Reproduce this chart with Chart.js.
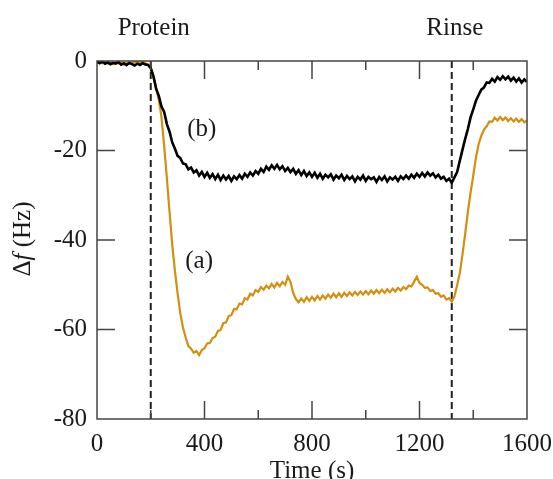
<!DOCTYPE html>
<html>
<head>
<meta charset="utf-8">
<script src="https://cdn.jsdelivr.net/npm/chart.js@4.4.1/dist/chart.umd.min.js"></script>
<style>
  html,body{margin:0;padding:0;background:#fff;}
  #c{display:block;}
</style>
</head>
<body>
<canvas id="c" width="553" height="479"></canvas>
<script>
// QCM frequency shift, sampled every 10 s
const TIME = [
  0,10,20,30,40,50,60,70,80,90,
  100,110,120,130,140,150,160,170,180,190,
  200,210,220,230,240,250,260,270,280,290,
  300,310,320,330,340,350,360,370,380,390,
  400,410,420,430,440,450,460,470,480,490,
  500,510,520,530,540,550,560,570,580,590,
  600,610,620,630,640,650,660,670,680,690,
  700,710,720,730,740,750,760,770,780,790,
  800,810,820,830,840,850,860,870,880,890,
  900,910,920,930,940,950,960,970,980,990,
  1000,1010,1020,1030,1040,1050,1060,1070,1080,1090,
  1100,1110,1120,1130,1140,1150,1160,1170,1180,1190,
  1200,1210,1220,1230,1240,1250,1260,1270,1280,1290,
  1300,1310,1320,1330,1340,1350,1360,1370,1380,1390,
  1400,1410,1420,1430,1440,1450,1460,1470,1480,1490,
  1500,1510,1520,1530,1540,1550,1560,1570,1580,1590,
  1600
];

// curve (b), black
const DF_B = [
  -0.2,-0.5,-0.1,-0.6,-0.3,-0.7,-0.4,-0.6,-0.2,-0.8,
  -0.5,-0.9,-0.4,-0.7,-1.0,-0.6,-0.9,-0.5,-0.8,-0.9,
  -1.6,-3.4,-6.2,-7.8,-10.2,-11.4,-14.1,-15.8,-18.2,-19.6,
  -21.2,-21.7,-22.9,-23.1,-24.2,-23.8,-24.9,-24.4,-25.6,-24.8,
  -25.9,-25.0,-26.1,-25.3,-26.4,-25.4,-26.6,-25.6,-26.5,-25.7,
  -26.8,-25.8,-26.4,-25.5,-26.3,-25.2,-25.9,-24.9,-25.6,-24.6,
  -25.2,-24.1,-24.8,-23.6,-24.3,-23.3,-24.1,-23.2,-24.2,-23.5,
  -24.6,-23.9,-24.8,-24.1,-25.2,-24.4,-25.5,-24.6,-25.7,-24.9,
  -25.9,-25.0,-26.1,-25.2,-26.3,-25.4,-26.0,-25.3,-26.5,-25.6,
  -26.2,-25.4,-26.6,-25.7,-26.4,-25.8,-26.9,-25.9,-26.5,-25.6,
  -26.8,-25.9,-26.4,-26.0,-27.0,-25.9,-26.6,-25.8,-26.9,-26.0,
  -26.5,-25.9,-26.8,-25.8,-26.4,-25.6,-26.3,-25.4,-26.1,-25.2,
  -25.9,-25.0,-25.8,-24.9,-25.6,-25.1,-26.0,-25.4,-26.3,-25.9,
  -26.8,-26.3,-27.2,-26.0,-24.8,-22.3,-19.8,-17.4,-15.2,-12.6,
  -10.8,-8.9,-7.6,-6.4,-5.9,-4.8,-4.9,-4.0,-4.6,-3.6,
  -4.2,-3.4,-4.1,-3.5,-4.4,-3.7,-4.6,-3.9,-4.8,-4.1,
  -4.7
];

// curve (a), orange
const DF_A = [
  -0.4,-0.2,-0.5,-0.3,-0.6,-0.4,-0.7,-0.3,-0.6,-0.5,
  -0.8,-0.5,-0.7,-0.4,-0.3,-0.1,-0.4,-0.2,-0.5,-0.8,
  -1.5,-3.6,-6.1,-8.7,-12.6,-19.0,-26.2,-33.8,-41.1,-46.9,
  -52.0,-56.4,-59.6,-61.8,-63.7,-64.3,-65.2,-64.8,-65.7,-64.6,
  -64.2,-63.1,-63.0,-61.9,-61.6,-60.3,-60.1,-58.6,-58.4,-57.0,
  -56.8,-55.4,-55.5,-54.2,-54.4,-53.0,-53.3,-52.0,-52.4,-51.2,
  -51.6,-50.5,-51.1,-50.2,-50.8,-49.8,-50.6,-49.6,-50.3,-49.4,
  -50.0,-48.2,-49.4,-51.8,-53.2,-53.9,-53.1,-53.8,-52.8,-53.6,
  -52.7,-53.5,-52.5,-53.3,-52.4,-53.1,-52.2,-52.9,-52.0,-52.8,
  -51.9,-52.7,-51.8,-52.5,-51.7,-52.4,-51.6,-52.3,-51.5,-52.2,
  -51.4,-52.1,-51.3,-52.0,-51.2,-51.9,-51.1,-51.8,-51.0,-51.7,
  -50.9,-51.5,-50.7,-51.3,-50.5,-51.0,-50.2,-50.4,-49.3,-48.2,
  -49.6,-50.0,-50.7,-50.6,-51.4,-51.2,-52.0,-51.9,-52.7,-52.4,
  -53.3,-53.0,-53.8,-52.6,-50.1,-47.4,-43.2,-38.6,-33.7,-29.4,
  -25.6,-21.6,-18.6,-16.7,-15.3,-14.6,-13.5,-13.6,-12.7,-13.3,
  -12.5,-13.2,-12.6,-13.4,-12.8,-13.5,-12.9,-13.6,-13.0,-13.7,
  -13.3
];

const EVENT_TIMES = [200, 1320];
const EVENT_NAMES = ['Protein', 'Rinse'];
const CURVE_NAMES = ['(a)', '(b)'];
const CURVE_LABEL_T = [380, 390];
const CURVE_LABEL_F = [-44.8, -15.4];
const X_MAJOR = [400, 800, 1200];
const X_MINOR = [200, 600, 1000, 1400];
const Y_TICKS = [-20, -40, -60];

const SERIF = "'Liberation Serif','DejaVu Serif',serif";
const toPts = (ys) => ys.map((v, i) => ({x: TIME[i], y: v}));

const decor = {
  id: 'decor',
  afterDraw(chart){
    const {ctx, chartArea: a, scales: {x, y}} = chart;
    ctx.save();
    // frame + inward ticks
    ctx.strokeStyle = '#444'; ctx.lineWidth = 1.5;
    ctx.strokeRect(a.left, a.top, a.right - a.left, a.bottom - a.top);
    ctx.beginPath();
    X_MAJOR.forEach(v => { const px = x.getPixelForValue(v);
      ctx.moveTo(px, a.bottom); ctx.lineTo(px, a.bottom - 18);
      ctx.moveTo(px, a.top); ctx.lineTo(px, a.top + 18); });
    X_MINOR.forEach(v => { const px = x.getPixelForValue(v);
      ctx.moveTo(px, a.bottom); ctx.lineTo(px, a.bottom - 9);
      ctx.moveTo(px, a.top); ctx.lineTo(px, a.top + 9); });
    Y_TICKS.forEach(v => { const py = y.getPixelForValue(v);
      ctx.moveTo(a.left, py); ctx.lineTo(a.left + 18, py);
      ctx.moveTo(a.right, py); ctx.lineTo(a.right - 18, py); });
    ctx.stroke();

    ctx.fillStyle = '#1a1a1a';
    ctx.font = '25px ' + SERIF;
    ctx.textAlign = 'center';
    ctx.textBaseline = 'alphabetic';
    EVENT_NAMES.forEach((s, i) => ctx.fillText(s, x.getPixelForValue(EVENT_TIMES[i]) + 3, 35));
    ctx.fillText('Time (s)', (a.left + a.right) / 2, 478);
    ctx.textBaseline = 'middle';
    CURVE_NAMES.forEach((s, i) => ctx.fillText(s, x.getPixelForValue(CURVE_LABEL_T[i]), y.getPixelForValue(CURVE_LABEL_F[i])));

    // y title: Δf (Hz), f italic
    ctx.translate(30, 239);
    ctx.rotate(-Math.PI / 2);
    ctx.textBaseline = 'alphabetic';
    ctx.textAlign = 'left';
    const parts = [['Δ', ''], ['f', 'italic '], [' (Hz)', '']];
    let w = 0;
    parts.forEach(p => { ctx.font = p[1] + '25px ' + SERIF; w += ctx.measureText(p[0]).width; });
    let cx = -w / 2;
    parts.forEach(p => { ctx.font = p[1] + '25px ' + SERIF; ctx.fillText(p[0], cx, 0); cx += ctx.measureText(p[0]).width; });
    ctx.restore();
  }
};

const dashed = (t) => ({
  data: [{x: t, y: 0}, {x: t, y: -80}],
  borderColor: '#222', borderWidth: 2, borderDash: [7, 4], pointRadius: 0
});

new Chart(document.getElementById('c'), {
  type: 'line',
  data: {
    datasets: [
      {data: toPts(DF_B), borderColor: '#000', borderWidth: 2.6, pointRadius: 0},
      {data: toPts(DF_A), borderColor: '#d38f0e', borderWidth: 2.2, pointRadius: 0},
      dashed(EVENT_TIMES[0]),
      dashed(EVENT_TIMES[1])
    ]
  },
  options: {
    responsive: false,
    animation: false,
    devicePixelRatio: 1,
    layout: {padding: {left: 0, top: 61, right: 26, bottom: 0}},
    elements: {line: {tension: 0}},
    plugins: {legend: {display: false}, tooltip: {enabled: false}},
    scales: {
      x: {
        type: 'linear', min: 0, max: 1600,
        grid: {display: false, drawTicks: false}, border: {display: false},
        ticks: {stepSize: 400, maxRotation: 0, padding: 10, color: '#1a1a1a',
                font: {family: SERIF, size: 25}, callback: v => String(v)},
        afterFit(s){ s.height = 60; s.paddingLeft = 0; s.paddingRight = 0; }
      },
      y: {
        min: -80, max: 0,
        grid: {display: false, drawTicks: false}, border: {display: false},
        ticks: {stepSize: 20, padding: 10, color: '#1a1a1a',
                font: {family: SERIF, size: 25}, callback: v => String(v)},
        afterFit(s){ s.width = 97; s.paddingTop = 0; s.paddingBottom = 0; }
      }
    }
  },
  plugins: [decor]
});
</script>
</body>
</html>
